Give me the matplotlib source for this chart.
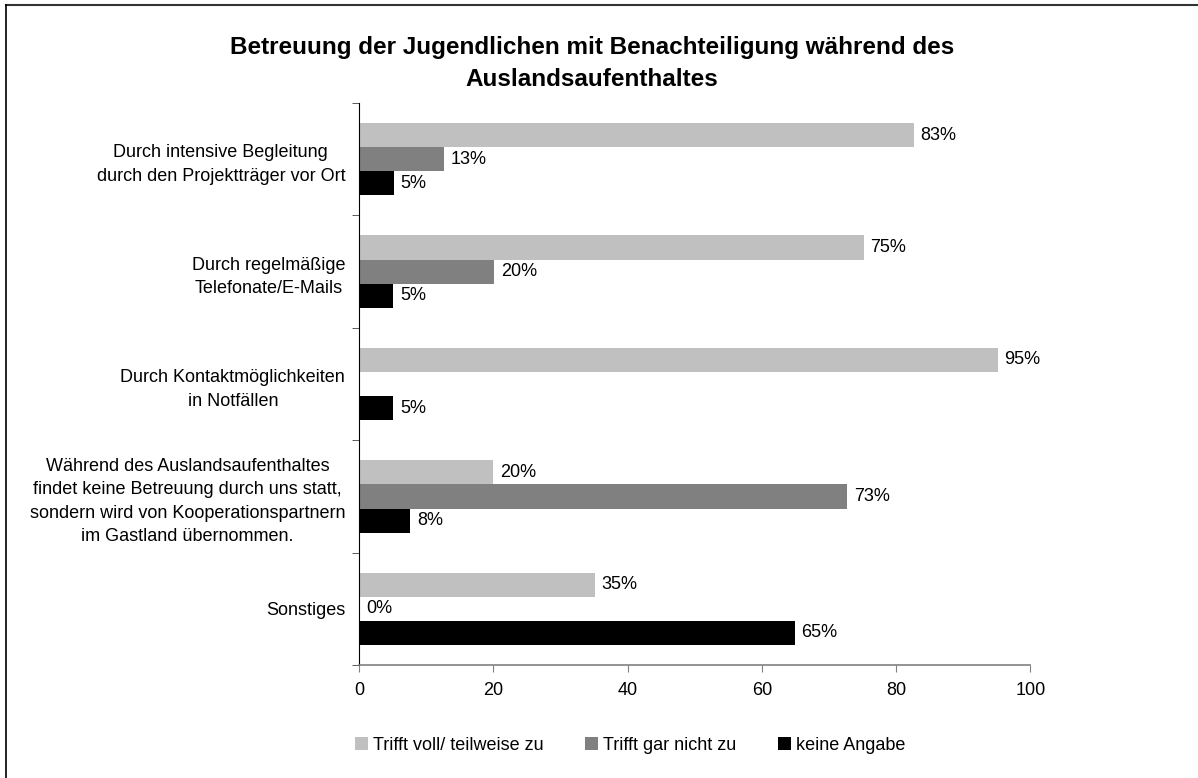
import numpy as np
import matplotlib
matplotlib.use("Agg")
import matplotlib.pyplot as plt
from matplotlib.lines import Line2D

plt.rcParams['font.family'] = ['Liberation Sans', 'DejaVu Sans']

# Daten
kategorien = [
    "Durch intensive Begleitung\ndurch den Projektträger vor Ort",
    "Durch regelmäßige\nTelefonate/E-Mails",
    "Durch Kontaktmöglichkeiten\nin Notfällen",
    "Während des Auslandsaufenthaltes\nfindet keine Betreuung durch uns statt,\n"
    "sondern wird von Kooperationspartnern\nim Gastland übernommen.",
    "Sonstiges",
]
serien = ["Trifft voll/ teilweise zu", "Trifft gar nicht zu", "keine Angabe"]
trifft_zu = [82.6, 75.2, 95.1, 20.0, 35.1]
trifft_nicht = [12.6, 20.1, np.nan, 72.7, 0.0]
keine_angabe = [5.2, 5.1, 5.1, 7.6, 64.9]
farben = ["#c0c0c0", "#808080", "#000000"]

werte = [trifft_zu, trifft_nicht, keine_angabe]

fig = plt.figure(figsize=(11.98, 7.78), dpi=100)
ax = fig.add_axes([0.2997, 0.1452, 0.5604, 0.7224])

n = len(kategorien)
pos = np.arange(n)
h = 0.215
for j, (name, vals, col) in enumerate(zip(serien, werte, farben)):
    y = pos + (j - 1) * h
    v = np.array(vals, dtype=float)
    ax.barh(y, np.nan_to_num(v), height=h, color=col, label=name)
    for yy, vv in zip(y, v):
        if np.isnan(vv):
            continue
        ax.text(vv + 1.0, yy, f"{vv:.0f}%", va="center", ha="left", fontsize=13)

ax.set_ylim(n - 0.5, -0.5)
ax.set_xlim(0, 100)
ax.set_xticks([0, 20, 40, 60, 80, 100])
ax.set_yticks(pos)
ax.set_yticklabels(kategorien, fontsize=13, ha="right", multialignment="center",
                   linespacing=1.5)
ax.tick_params(axis="y", length=0, pad=10)
ax.set_yticks(np.arange(n + 1) - 0.5, minor=True)
ax.tick_params(axis="y", which="minor", length=5, direction="out", color="#404040")
ax.tick_params(axis="x", length=5, direction="out", labelsize=13, pad=7, color="#808080")
for s in ["top", "right"]:
    ax.spines[s].set_visible(False)
ax.spines["left"].set_color("black")
ax.spines["bottom"].set_color("#808080")
ax.spines["bottom"].set_linewidth(1.2)

fig.text(0.494, 0.918, "Betreuung der Jugendlichen mit Benachteiligung während des\nAuslandsaufenthaltes",
         ha="center", va="center", fontsize=17.5, fontweight="bold", linespacing=1.5)

fig.legend(loc="center", bbox_to_anchor=(0.526, 0.042), ncol=3, frameon=False,
           fontsize=13, handlelength=0.7, handleheight=0.7, handletextpad=0.3,
           columnspacing=2.3)

# Rahmen oben und links
fig.add_artist(Line2D([0.005, 1.0], [0.9935, 0.9935], transform=fig.transFigure, color="#333333", lw=1.5))
fig.add_artist(Line2D([0.005, 0.005], [0.0, 0.9935], transform=fig.transFigure, color="black", lw=1.2))

fig.savefig("out.png", dpi=100)
